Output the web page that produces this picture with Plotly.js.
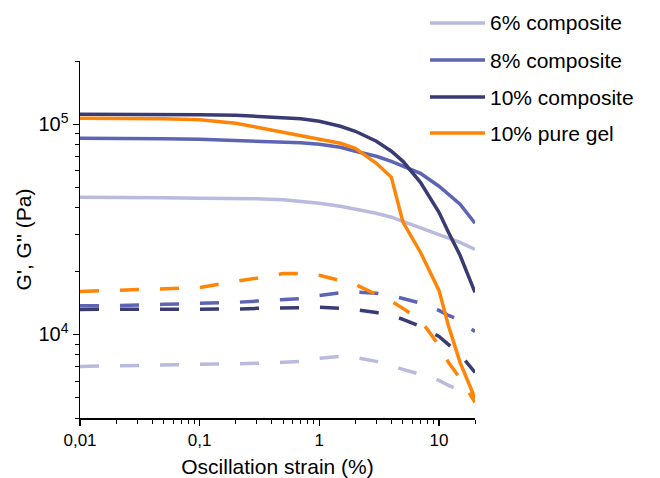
<!DOCTYPE html>
<html><head><meta charset="utf-8">
<script src="https://cdn.plot.ly/plotly-3.0.1.min.js"></script>
<style>body{margin:0;background:#fff}#c{width:660px;height:478px}</style>
</head><body><div id="c"></div>
<script>
const strain = [0.01,0.02,0.05,0.1,0.2,0.3,0.5,0.7,1,1.5,2,3,4,5,7,10,12,15,20];
const names = ['6% composite','8% composite','10% composite','10% pure gel'];
const colors = ['#b9badd','#5d64b3','#393b72','#ff8508'];
// Storage modulus G' (solid)
const G1_6  = [44900,44900,44700,44400,44400,44200,43700,43000,42100,40700,39400,37700,36100,34500,32300,29900,28700,27400,25400];
const G1_8  = [85800,85800,85300,84900,83900,83500,82500,81600,80300,77700,74400,70400,66600,63100,58400,50700,46400,41600,33800];
const G1_10 = [111600,111600,111600,111000,110400,109200,108000,106200,103300,97800,92600,83000,74400,66600,52900,38100,30600,23800,15850];
const G1_gel= [106800,106800,106200,105100,101100,96800,91600,87700,84900,81200,76900,65200,55900,34200,24600,16200,11000,7360,4960];
// Loss modulus G'' (dashed)
const G2_6  = [7040,7080,7160,7200,7240,7280,7360,7440,7690,7860,7770,7440,7120,6810,6450,6040,5720,5410,5070];
const G2_8  = [13700,13700,13900,14000,14200,14400,14600,14800,15300,15800,15900,15700,15300,14800,14100,13000,12300,11700,10300];
const G2_10 = [13150,13150,13150,13150,13200,13300,13400,13450,13450,13300,13100,12700,12300,11800,10900,9780,8960,8030,6590];
const G2_gel= [16000,16200,16500,16700,17900,18500,19500,19500,19100,18100,17300,15500,14400,13300,11700,8860,7360,6170,4750];
const xTickVals = [0.01,0.1,1,10];
const xTickText = ['0,01','0,1','1','10'];
const yTickVals = [1e4,1e5];
const yTickText = ['10<sup>4</sup>','10<sup>5</sup>'];

const solid = [G1_6,G1_8,G1_10,G1_gel];
const dashed = [G2_6,G2_8,G2_10,G2_gel];
const traces = [];
dashed.forEach((y,i)=>traces.push({x:strain,y:y,type:'scatter',mode:'lines',showlegend:false,
  line:{color:colors[i],width:3.5,dash:'19px,21px'},hoverinfo:'skip'}));
solid.forEach((y,i)=>traces.push({x:strain,y:y,type:'scatter',mode:'lines',name:names[i],showlegend:false,
  line:{color:colors[i],width:3.5}}));

const font = {family:'Liberation Sans, Arial, sans-serif',color:'#000'};

// Manual legend (placed in paper coordinates so the plot area is not resized)
const plotL = 80, plotW = 395, plotB = 418, plotH = 357;
const px2x = p => (p - plotL) / plotW;
const px2y = p => (plotB - p) / plotH;
const legRows = [23, 60, 97, 133];
const shapes = [], annotations = [];
names.forEach((n,i)=>{
  const yy = px2y(legRows[i]);
  shapes.push({type:'line',xref:'paper',yref:'paper',x0:px2x(430),x1:px2x(485),y0:yy,y1:yy,
    line:{color:colors[i],width:3.5}});
  annotations.push({xref:'paper',yref:'paper',x:px2x(488),y:yy,xanchor:'left',yanchor:'middle',
    text:n,showarrow:false,font:Object.assign({size:21},font)});
});

const layout = {
  width:660,height:478,
  margin:{l:80,r:185,t:61,b:60},
  paper_bgcolor:'#fff',plot_bgcolor:'#fff',
  font:Object.assign({size:17},font),
  showlegend:false,
  shapes:shapes, annotations:annotations,
  xaxis:{type:'log',range:[-2,Math.log10(20)],showgrid:false,zeroline:false,
    showline:true,linecolor:'#000',linewidth:1.5,ticks:'outside',ticklen:6,tickwidth:1.5,tickcolor:'#000',
    tickmode:'array',tickvals:xTickVals,ticktext:xTickText,tickfont:Object.assign({size:17},font),
    minor:{ticks:'outside',ticklen:4,tickwidth:1,tickcolor:'#000',dtick:'D1',showgrid:false},
    title:{text:'Oscillation strain (%)',font:Object.assign({size:21},font),standoff:11}},
  yaxis:{type:'log',range:[Math.log10(4000),Math.log10(2e5)],showgrid:false,zeroline:false,
    showline:true,linecolor:'#000',linewidth:1.5,ticks:'outside',ticklen:6,tickwidth:1.5,tickcolor:'#000',
    tickmode:'array',tickvals:yTickVals,ticktext:yTickText,tickfont:Object.assign({size:20},font),
    minor:{ticks:'outside',ticklen:4,tickwidth:1,tickcolor:'#000',dtick:'D1',showgrid:false},
    title:{text:"G', G'' (Pa)",font:Object.assign({size:21},font),standoff:1}}
};
Plotly.newPlot('c',traces,layout,{displayModeBar:false,staticPlot:true});
</script></body></html>
